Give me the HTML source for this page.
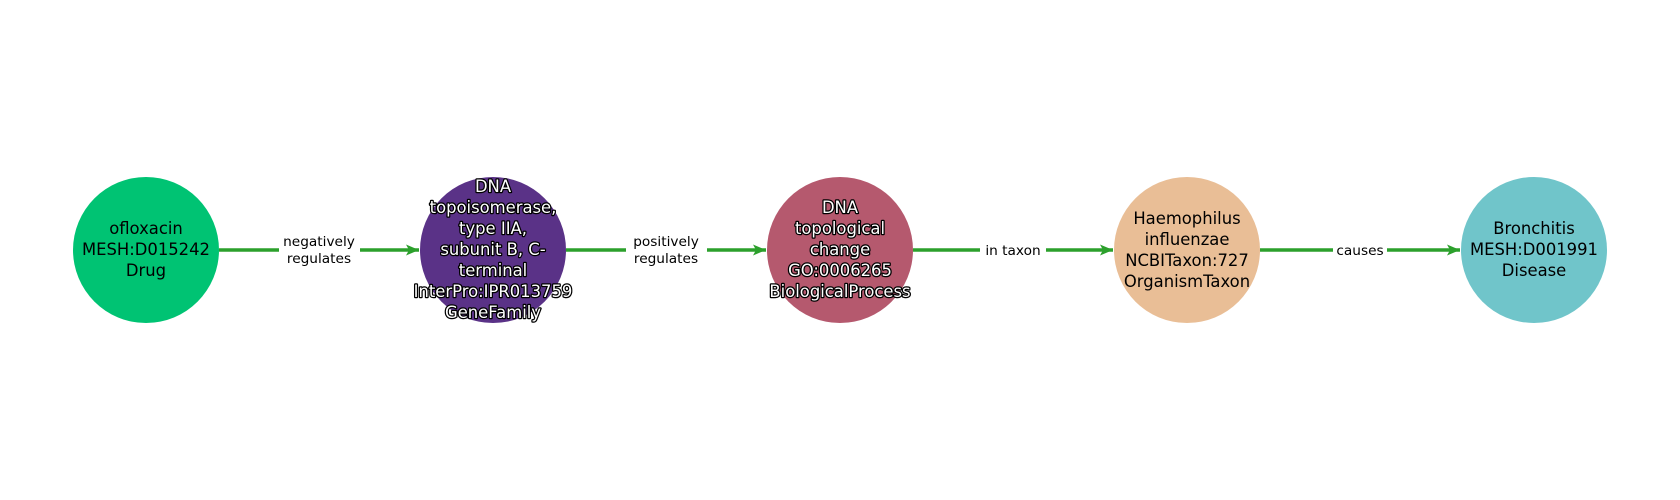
<!DOCTYPE html>
<html><head><meta charset="utf-8"><style>
html,body{margin:0;padding:0;background:#fff;}
svg{display:block;}
text{font-family:"DejaVu Sans","Liberation Sans",sans-serif;}
.n{font-size:16.4px;text-anchor:middle;fill:#000;}
.w{fill:#fff;stroke:#000;stroke-width:2.5px;paint-order:stroke;stroke-linejoin:round;}
.e{font-size:13.7px;text-anchor:middle;fill:#000;}
</style></head><body>
<svg width="1680" height="500" viewBox="0 0 1680 500">
<defs><marker id="a" markerWidth="14" markerHeight="14" refX="13" refY="6" orient="auto" markerUnits="userSpaceOnUse"><path d="M0,0.5 L13,6 L0,11.5 L3,6 Z" fill="#2ca02c"/></marker></defs>
<g stroke="#2ca02c" stroke-width="3.4" fill="none">
<line x1="219" y1="250" x2="419" y2="250" marker-end="url(#a)"/>
<line x1="566" y1="250" x2="766" y2="250" marker-end="url(#a)"/>
<line x1="913" y1="250" x2="1113" y2="250" marker-end="url(#a)"/>
<line x1="1260" y1="250" x2="1460" y2="250" marker-end="url(#a)"/>
</g>
<g fill="#fff">
<rect x="279" y="230" width="81" height="40"/>
<rect x="626" y="230" width="81" height="40"/>
<rect x="980" y="240" width="66" height="20"/>
<rect x="1333" y="240" width="54" height="20"/>
</g>
<text class="e" x="319" y="246">negatively</text><text class="e" x="319" y="263">regulates</text>
<text class="e" x="666" y="246">positively</text><text class="e" x="666" y="263">regulates</text>
<text class="e" x="1013" y="255">in taxon</text>
<text class="e" x="1360" y="255">causes</text>
<circle cx="146" cy="250" r="73" fill="#00c373"/>
<circle cx="493" cy="250" r="73" fill="#5a3287"/>
<circle cx="840" cy="250" r="73" fill="#b5596e"/>
<circle cx="1187" cy="250" r="73" fill="#e9be96"/>
<circle cx="1534" cy="250" r="73" fill="#70c5ca"/>
<text class="n" x="146" y="234">ofloxacin</text>
<text class="n" x="146" y="255">MESH:D015242</text>
<text class="n" x="146" y="276">Drug</text>
<g class="n w">
<text x="493" y="192">DNA</text>
<text x="493" y="213">topoisomerase,</text>
<text x="493" y="234">type IIA,</text>
<text x="493" y="255">subunit B, C-</text>
<text x="493" y="276">terminal</text>
<text x="493" y="297">InterPro:IPR013759</text>
<text x="493" y="318">GeneFamily</text>
<text x="840" y="213">DNA</text>
<text x="840" y="234">topological</text>
<text x="840" y="255">change</text>
<text x="840" y="276">GO:0006265</text>
<text x="840" y="297">BiologicalProcess</text>
</g>
<text class="n" x="1187" y="224">Haemophilus</text>
<text class="n" x="1187" y="245">influenzae</text>
<text class="n" x="1187" y="266">NCBITaxon:727</text>
<text class="n" x="1187" y="287">OrganismTaxon</text>
<text class="n" x="1534" y="234">Bronchitis</text>
<text class="n" x="1534" y="255">MESH:D001991</text>
<text class="n" x="1534" y="276">Disease</text>
</svg>
</body></html>
